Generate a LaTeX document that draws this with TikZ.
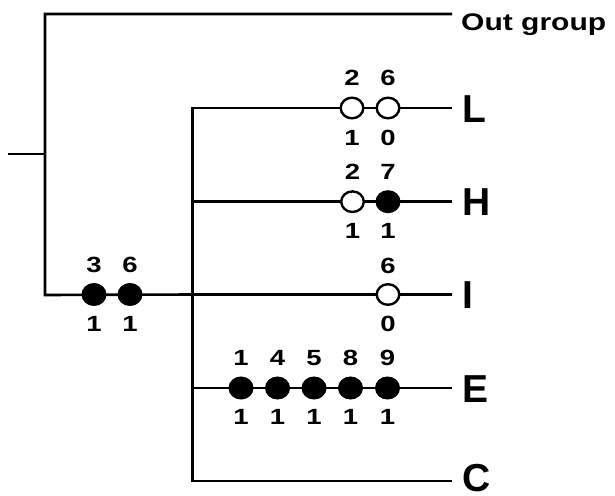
\documentclass[tikz,border=0pt]{standalone}
\usepackage{graphicx}
\usepackage{fontspec}
\setmainfont{Liberation Sans}
\usetikzlibrary{shapes.geometric}
% horizontally widened text, as in the printed counts
\newcommand{\widetext}[1]{\scalebox{1.25}[1]{#1}}
\begin{document}
\begin{tikzpicture}[x=1pt,y=-1pt,
  branch/.style={line width=2.6pt, line join=miter},
  taxon/.style={font=\fontsize{39}{39}\selectfont\bfseries, inner sep=0pt, anchor=base west},
  outgrp/.style={font=\fontsize{24}{24}\selectfont\bfseries, inner sep=0pt, anchor=base west},
  openstate/.style={ellipse, draw=black, line width=2.4pt, fill=white,
    minimum width=22.6pt, minimum height=20.6pt, inner sep=0pt},
  closedstate/.style={openstate, fill=black},
  count/.style={font=\fontsize{22}{22}\selectfont\bfseries, inner sep=0pt}
]
\useasboundingbox (0,0) rectangle (615,495);

% junctions and branch tips
\coordinate (stub) at (8,154);
\coordinate (rootj) at (45,154);
\coordinate (topc) at (45,14);
\coordinate (botc) at (45,295);
\coordinate (tipO) at (452,14);
\coordinate (inT) at (192.7,108);
\coordinate (inI) at (192.7,294.5);
\coordinate (inB) at (192.7,481);
\coordinate (inH) at (192.7,201.7);
\coordinate (inE) at (192.7,388);
\coordinate (tipL) at (452,108);
\coordinate (tipH) at (452,201.7);
\coordinate (tipI) at (452,294.5);
\coordinate (tipE) at (452,388);
\coordinate (tipC) at (452,481);

% tree
\draw[branch] (stub) -- (rootj);
\draw[branch] (tipO) -- (topc) -- (botc) -- (inI) -- (tipI);
\draw[branch] (tipL) -- (inT) -- (inB) -- (tipC);
\draw[branch] (inH) -- (tipH);
\draw[branch] (inE) -- (tipE);

% taxon names
\node[outgrp] (out) at (461,31) {\widetext{Out group}};
\node[taxon] (L) at (462,122) {L};
\node[taxon] (H) at (462,215.7) {H};
\node[taxon] (I) at (462,308.5) {I};
\node[taxon] (E) at (462,402) {E};
\node[taxon] (C) at (462,491.5) {C};

% character states on the stem of the ingroup
\node[closedstate] (s3) at (94,294.5) {};
\node[closedstate] (s6) at (130,294.5) {};
\node[count] at (94,264.5) {\widetext{3}};
\node[count] at (130,264.5) {\widetext{6}};
\node[count] at (94,324) {\widetext{1}};
\node[count] at (130,324) {\widetext{1}};

% L
\node[openstate] (L2) at (352,108) {};
\node[openstate] (L6) at (388,108) {};
\node[count] at (352,78) {\widetext{2}};
\node[count] at (388,78) {\widetext{6}};
\node[count] at (352,137.5) {\widetext{1}};
\node[count] at (388,137.5) {\widetext{0}};

% H
\node[openstate] (H2) at (352.5,201.7) {};
\node[closedstate] (H7) at (388,201.7) {};
\node[count] at (352.5,171.7) {\widetext{2}};
\node[count] at (388,171.7) {\widetext{7}};
\node[count] at (352.5,231.2) {\widetext{1}};
\node[count] at (388,231.2) {\widetext{1}};

% I
\node[openstate] (I6) at (388,294.5) {};
\node[count] at (388,265.5) {\widetext{6}};
\node[count] at (388,324) {\widetext{0}};

% E
\foreach \x/\c [count=\i] in {241/1, 277.5/4, 314/5, 350.5/8, 387.5/9} {
  \node[closedstate] (E\i) at (\x,388) {};
  \node[count] at (\x,358) {\widetext{\c}};
  \node[count] at (\x,417) {\widetext{1}};
}
\end{tikzpicture}
\end{document}
